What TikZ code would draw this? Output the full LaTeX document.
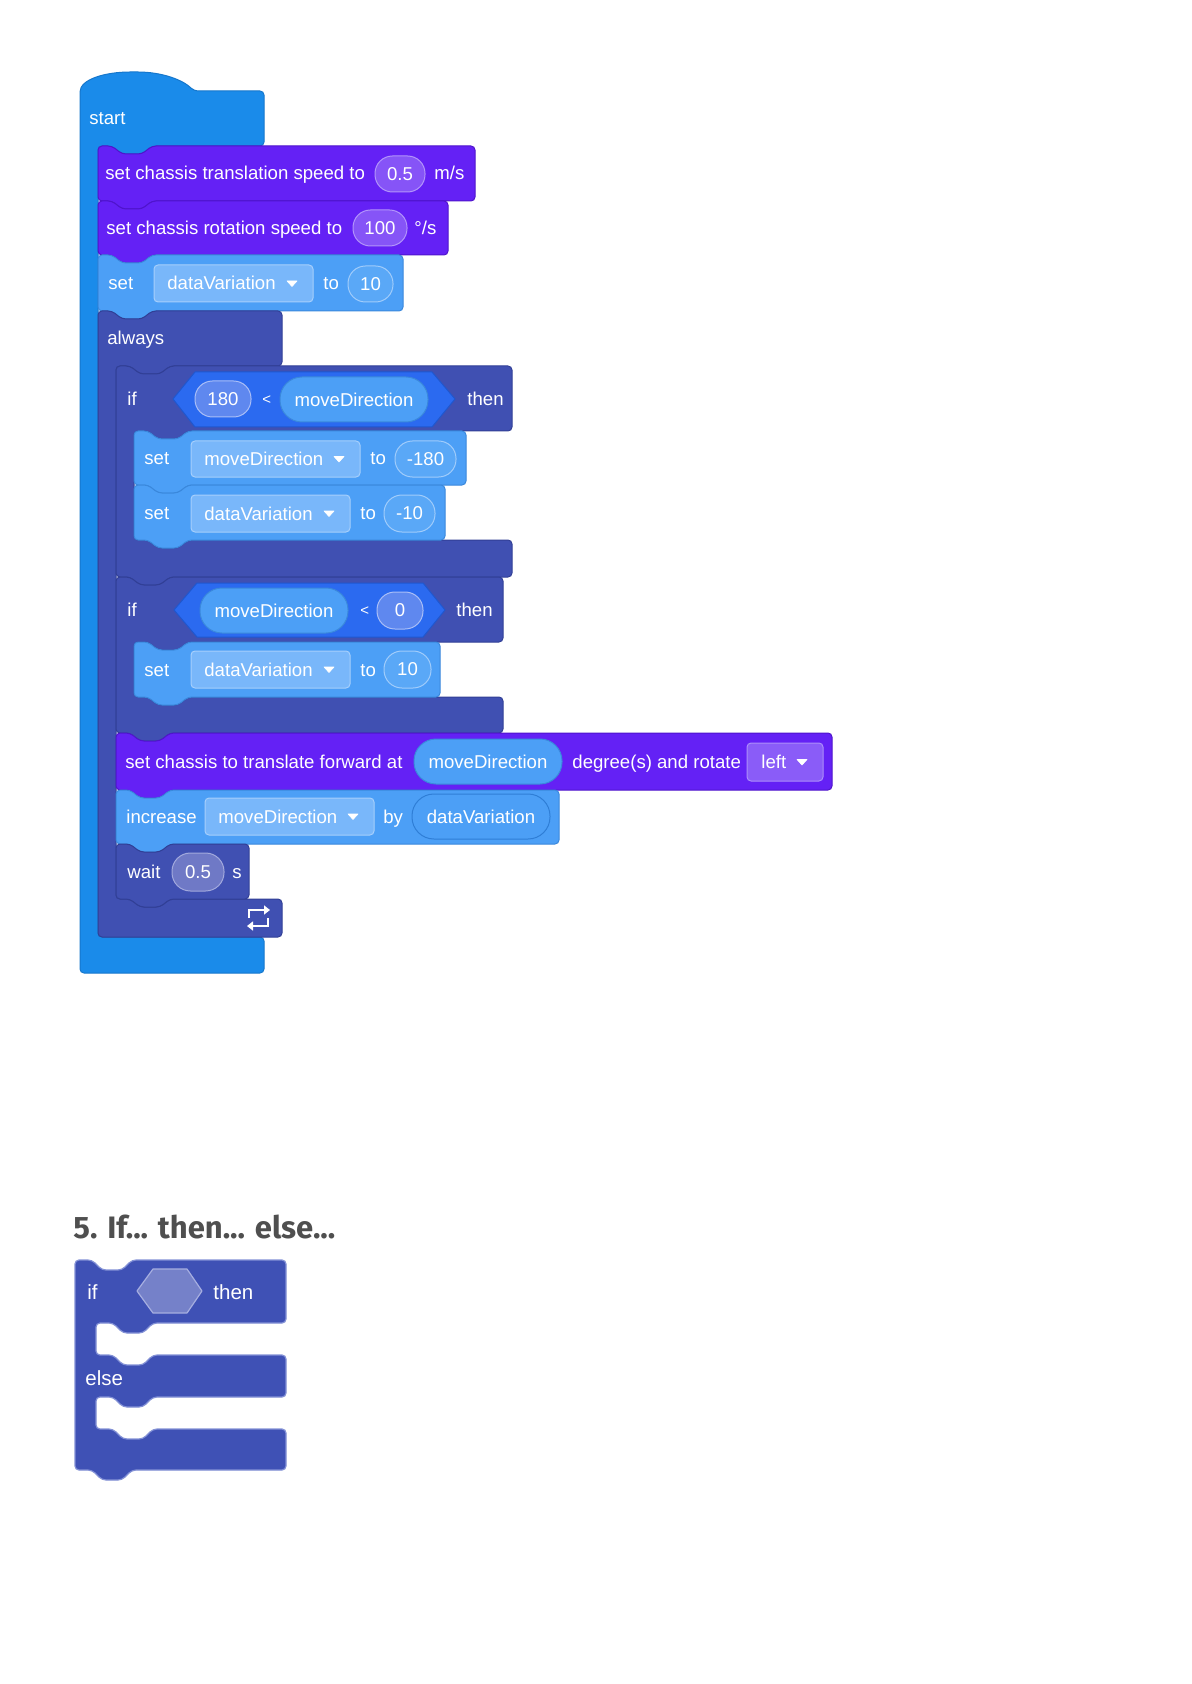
\documentclass[tikz,border=0pt]{standalone}
\usepackage{fontspec}
\setmainfont{Liberation Sans}
\newfontfamily\headfont{Fira Sans}
\usetikzlibrary{arrows.meta}

\definecolor{cStart}{HTML}{1A8BEA}
\definecolor{cStartD}{HTML}{1677CC}
\definecolor{cPurp}{HTML}{6421F5}
\definecolor{cPurpD}{HTML}{4F14CC}
\definecolor{cLB}{HTML}{4C9FF6}
\definecolor{cLBD}{HTML}{3A88DC}
\definecolor{cInd}{HTML}{4050B2}
\definecolor{cIndD}{HTML}{313F96}
\definecolor{cHex}{HTML}{2B6AF0}
\definecolor{cHexD}{HTML}{1F57CF}
\definecolor{cDDLB}{HTML}{79B7FA}
\definecolor{cDDLBb}{HTML}{A6CFFC}
\definecolor{cNumLB}{HTML}{5AA8F7}
\definecolor{cNumLBb}{HTML}{A0CCFB}
\definecolor{cNumP}{HTML}{8654F7}
\definecolor{cNumPb}{HTML}{B294FA}
\definecolor{cNumH}{HTML}{5F88EF}
\definecolor{cNumHb}{HTML}{A9BEF7}
\definecolor{cNumI}{HTML}{6F79C6}
\definecolor{cNumIb}{HTML}{A2A9DD}
\definecolor{cDDP}{HTML}{8A5CF8}
\definecolor{cDDPb}{HTML}{AC8EFA}
\definecolor{cVarb}{HTML}{2F7ED6}
\definecolor{cHead}{HTML}{4F4F4F}
\definecolor{cIE}{HTML}{3F51B5}
\definecolor{cIEb}{HTML}{8391D6}
\definecolor{cIEhex}{HTML}{7581C9}
\definecolor{cIEhexb}{HTML}{A6AEE0}

% notch (left to right) and tab (right to left), both dipping downward
\newcommand\tabdn[2]{-- ({#1+14},#2) -- ({#1+24},{#2+8}) -- ({#1+44},{#2+8}) -- ({#1+54},#2)}
\newcommand\tabbk[2]{-- ({#1+54},#2) -- ({#1+44},{#2+8}) -- ({#1+24},{#2+8}) -- ({#1+14},#2)}
% stack block: style, x0, y0, x1, y1
\newcommand\sblk[5]{\path[#1] (#2,{#3+12}) -- (#2,#3) \tabdn{#2}{#3} -- (#4,#3) -- (#4,#5) \tabbk{#2}{#5} -- (#2,#5) -- cycle;}
% C block: style, x0, y0, xr, yh, yb, xb, y1
\newcommand\cblk[8]{\path[#1] (#2,{#3+12}) -- (#2,#3) \tabdn{#2}{#3} -- (#4,#3) -- (#4,#5) \tabbk{#2+18}{#5} -- ({#2+18},#5) -- ({#2+18},#6) \tabdn{#2+18}{#6} -- (#7,#6) -- (#7,#8) \tabbk{#2}{#8} -- (#2,#8) -- cycle;}
\newcommand\cblkcap[8]{\path[#1] (#2,{#3+12}) -- (#2,#3) \tabdn{#2}{#3} -- (#4,#3) -- (#4,#5) \tabbk{#2+18}{#5} -- ({#2+18},#5) -- ({#2+18},#6) \tabdn{#2+18}{#6} -- (#7,#6) -- (#7,#8) -- (#2,#8) -- cycle;}
% oval: name, x0, y0, x1, y1, style, text
\newcommand\ovl[7]{\node[oval, #6, minimum width={(#4-#2)*0.5pt}, minimum height={(#5-#3)*0.5pt}, rounded corners={(#5-#3)*0.25pt-0.3pt}] (#1) at ({(#2+#4)/2},{(#3+#5)/2}) {#7};}
% dropdown: name, x0, y0, x1, y1, style, textx, text
\newcommand\ddn[8]{\node[ddbox, #6, minimum width={(#4-#2)*0.5pt}, minimum height={(#5-#3)*0.5pt}] (#1) at ({(#2+#4)/2},{(#3+#5)/2}) {};
\node[txt] (#1t) at (#7,{(#3+#5)/2+6.5}) {#8};
\path[tri] ({#4-26},{(#3+#5)/2-2.5}) -- ({#4-16},{(#3+#5)/2-2.5}) -- ({#4-21},{(#3+#5)/2+3}) -- cycle;}

\tikzset{
 blk/.style={line width=0.5pt, rounded corners=2pt},
 pstart/.style={blk, fill=cStart, draw=cStartD},
 ppurp/.style={blk, fill=cPurp, draw=cPurpD},
 plb/.style={blk, fill=cLB, draw=cLBD},
 pind/.style={blk, fill=cInd, draw=cIndD},
 txt/.style={anchor=base west, inner sep=0pt, text=white, font=\fontsize{9.3}{11}\selectfont},
 small/.style={anchor=base west, inner sep=0pt, text=white, font=\fontsize{7.5}{9}\selectfont},
 oval/.style={inner sep=0pt, text=white, font=\fontsize{9.3}{11}\selectfont, line width=0.5pt},
 ddbox/.style={inner sep=0pt, line width=0.5pt, rounded corners=2pt},
 tri/.style={fill=white, draw=white, line width=0.3pt, line join=round},
 numP/.style={fill=cNumP, draw=cNumPb},
 numLB/.style={fill=cNumLB, draw=cNumLBb},
 numH/.style={fill=cNumH, draw=cNumHb},
 numI/.style={fill=cNumI, draw=cNumIb},
 varov/.style={fill=cLB, draw=cLBD},
 varout/.style={fill=cLB, draw=cVarb},
 ddLB/.style={fill=cDDLB, draw=cDDLBb},
 ddP/.style={fill=cDDP, draw=cDDPb},
 hexa/.style={fill=cHex, draw=cHexD, line width=0.5pt, line join=round},
 ietxt/.style={anchor=base west, inner sep=0pt, text=white, font=\fontsize{10.25}{12}\selectfont},
 loopar/.style={white, line width=1pt, -{Triangle[length=3pt,width=4.5pt]}},
}

\begin{document}
\begin{tikzpicture}[x=0.5pt,y=-0.5pt]
\useasboundingbox (0,0) rectangle (1191,1684);
\fill[white] (0,0) rectangle (1191,1684);

% ---------- start hat block ----------
\path[pstart] (80,300) -- (80,96) .. controls (80,79) and (106,72) .. (134,72) .. controls (162,72) and (183,80) .. (194,91) -- (264,91) -- (264,146) \tabbk{98}{146} -- (98,146) -- (98,937) -- (264,937) -- (264,973) -- (80,973) -- cycle;
\node[txt] (tstart) at (89,125) {start};

% ---------- block 1 ----------
\sblk{ppurp}{98}{146}{475}{201}
\node[txt] (t1) at (105,180) {set chassis translation speed to};
\ovl{o1}{375}{156}{425}{192}{numP}{0.5}
\node[txt] (t1b) at (434,180) {m/s};

% ---------- block 2 ----------
\sblk{ppurp}{98}{201}{448}{255}
\node[txt] (t2) at (106,235) {set chassis rotation speed to};
\ovl{o2}{353}{210}{407}{246}{numP}{100}
\node[txt] (t2b) at (414,235) {°/s};

% ---------- block 3 ----------
\sblk{plb}{98}{255}{403}{311}
\node[txt] (t3) at (108,290) {set};
\ddn{d3}{154}{265}{313}{302}{ddLB}{167}{dataVariation}
\node[txt] (t3b) at (323,290) {to};
\ovl{o3}{348}{266}{393}{302}{numLB}{10}

% ---------- always ----------
\cblkcap{pind}{98}{311}{282}{366}{899}{282}{937}
\node[txt] (talw) at (107,345) {always};

% ---------- if 1 ----------
\cblk{pind}{116}{366}{512}{431}{540}{512}{577}
\node[txt] (tif1) at (127,406) {if};
\path[hexa] (173,399) -- (195,372) -- (432,372) -- (455,399) -- (432,427) -- (195,427) -- cycle;
\ovl{o4}{195}{381}{251}{417}{numH}{180}
\node[small] (lt1) at (262,405) {<};
\ovl{o5}{280}{377}{428}{422}{varov}{moveDirection}
\node[txt] (then1) at (467,406) {then};

\sblk{plb}{134}{431}{466}{485}
\node[txt] (t5) at (144,465) {set};
\ddn{d5}{191}{441}{360}{477}{ddLB}{204}{moveDirection}
\node[txt] (t5b) at (370,465) {to};
\ovl{o6}{395}{441}{456}{477}{numLB}{-180}

\sblk{plb}{134}{485}{445}{540}
\node[txt] (t6) at (144,519) {set};
\ddn{d6}{191}{495}{350}{532}{ddLB}{204}{dataVariation}
\node[txt] (t6b) at (360,519) {to};
\ovl{o7}{384}{495}{435}{532}{numLB}{-10}

% ---------- if 2 ----------
\cblk{pind}{116}{577}{503}{642}{697}{503}{733}
\node[txt] (tif2) at (127,616) {if};
\path[hexa] (174,610) -- (197,583) -- (423,583) -- (445,610) -- (423,637) -- (197,637) -- cycle;
\ovl{o8}{200}{588}{348}{633}{varov}{moveDirection}
\node[small] (lt2) at (360,615) {<};
\ovl{o9}{377}{592}{423}{629}{numH}{0}
\node[txt] (then2) at (456,616) {then};

\sblk{plb}{134}{642}{440}{697}
\node[txt] (t8) at (144,676) {set};
\ddn{d8}{191}{651}{350}{688}{ddLB}{204}{dataVariation}
\node[txt] (t8b) at (360,676) {to};
\ovl{o10}{384}{651}{431}{688}{numLB}{10}

% ---------- translate ----------
\sblk{ppurp}{116}{733}{832}{790}
\node[txt] (t9) at (125,768) {set chassis to translate forward at};
\ovl{o11}{414}{739}{562}{784}{varov}{moveDirection}
\node[txt] (t9b) at (572,768) {degree(s) and rotate};
\ddn{d9}{747}{743}{823}{781}{ddP}{761}{left}

% ---------- increase ----------
\sblk{plb}{116}{790}{559}{844}
\node[txt] (t10) at (126,823) {increase};
\ddn{d10}{205}{798}{374}{835}{ddLB}{218}{moveDirection}
\node[txt] (t10b) at (383,823) {by};
\ovl{o12}{412}{794}{550}{839}{varout}{dataVariation}

% ---------- wait ----------
\sblk{pind}{116}{844}{249}{899}
\node[txt] (t11) at (127,878) {wait};
\ovl{o13}{172}{853}{224}{891}{numI}{0.5}
\node[txt] (t11b) at (232,878) {s};

% loop icon
\coordinate (la1) at (249,918);
\coordinate (la2) at (249,910);
\coordinate (la3) at (270,910);
\coordinate (lb1) at (268,918);
\coordinate (lb2) at (268,926);
\coordinate (lb3) at (247,926);
\draw[loopar] (la1) -- (la2) -- (la3);
\draw[loopar] (lb1) -- (lb2) -- (lb3);

% ---------- heading ----------
\node[anchor=base west, inner sep=0pt, text=cHead, font=\headfont\bfseries\fontsize{15.5}{18}\selectfont] (head) at (73,1238) {5. If... then... else...};

% ---------- if / else block ----------
\path[fill=cIE, draw=cIEb, line width=0.6pt, rounded corners=2pt]
 (75,1275) -- (75,1260) -- (92,1260) -- (102,1270) -- (122,1270) -- (132,1260) -- (286,1260) -- (286,1323)
 -- (153,1323) -- (143,1333) -- (123,1333) -- (113,1323) -- (96,1323) -- (96,1355)
 -- (113,1355) -- (123,1365) -- (143,1365) -- (153,1355) -- (286,1355) -- (286,1397)
 -- (153,1397) -- (143,1407) -- (123,1407) -- (113,1397) -- (96,1397) -- (96,1429)
 -- (113,1429) -- (123,1439) -- (143,1439) -- (153,1429) -- (286,1429) -- (286,1470)
 -- (132,1470) -- (122,1480) -- (102,1480) -- (92,1470) -- (75,1470) -- cycle;
\node[ietxt] (ieif) at (87,1299) {if};
\path[fill=cIEhex, draw=cIEhexb, line width=0.6pt, line join=round] (137,1291) -- (153,1269) -- (187,1269) -- (202,1291) -- (187,1313) -- (153,1313) -- cycle;
\node[ietxt] (iethen) at (213,1299) {then};
\node[ietxt] (ieelse) at (85,1385) {else};
\end{tikzpicture}
\end{document}
